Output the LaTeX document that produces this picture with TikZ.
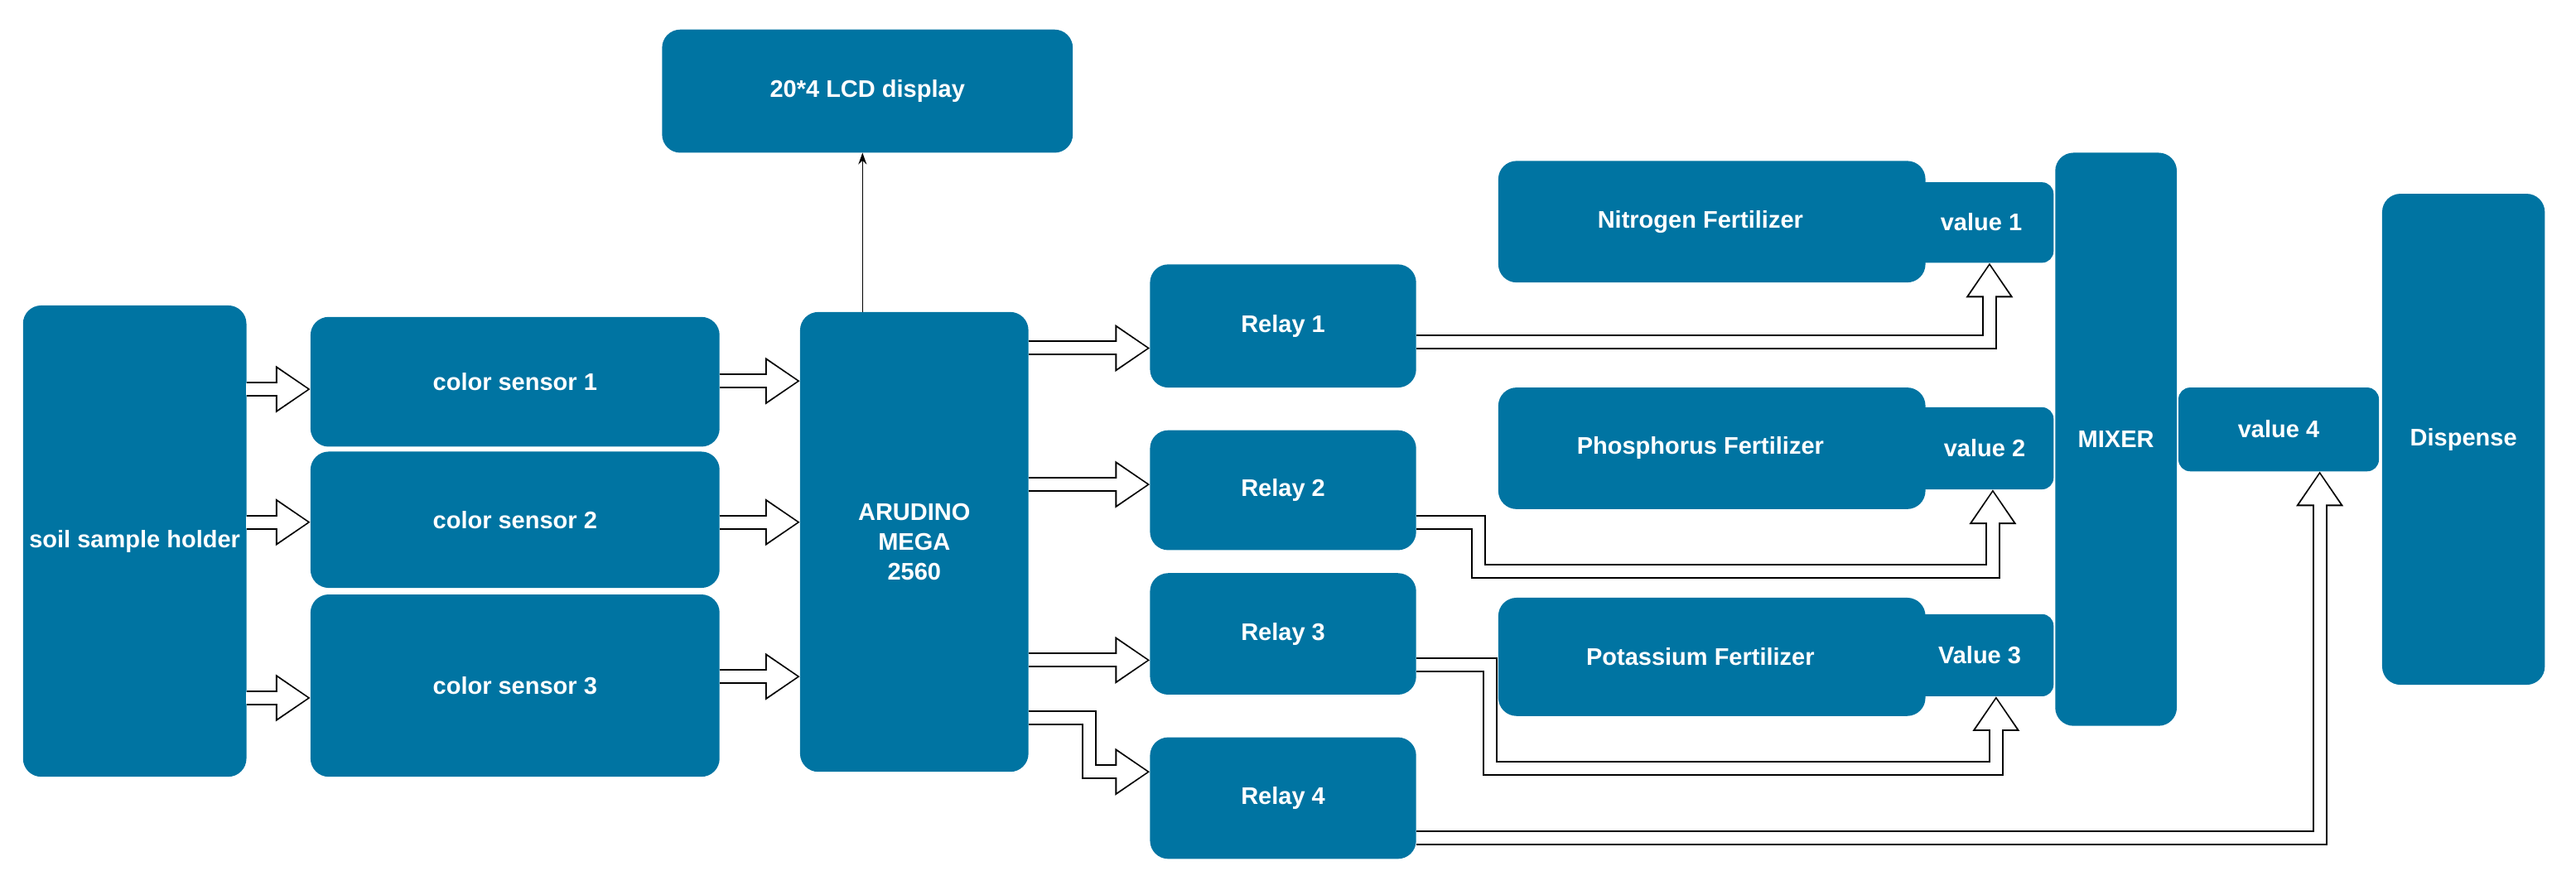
\documentclass[tikz,border=0pt]{standalone}
\usepackage{fontspec}
\setmainfont{Liberation Sans}
\usetikzlibrary{arrows.meta}
\definecolor{bx}{RGB}{0,116,162}
\begin{document}
\begin{tikzpicture}[x=1.983pt,y=-1.983pt,
  box/.style={fill=bx,rounded corners=22pt,text=white,font=\bfseries\fontsize{29}{36}\selectfont,align=center,inner sep=0pt},
  bo/.style={draw=black,line width=18pt,-{Triangle[length=42pt,width=54pt]}},
  bi/.style={draw=white,line width=14pt,shorten >=3pt,-{Triangle[length=37pt,width=47pt]},shorten <=-0.1pt}]
\useasboundingbox (0,0) rectangle (1568,545);
\newcommand\bx[6]{\path[box] (#2,#3) rectangle (#4,#5); \node[box,fill=none] (#1) at ({(#2+#4)/2},{(#3+#5)/2}) {#6}; \coordinate (#1-nw) at (#2,#3); \coordinate (#1-se) at (#4,#5);}
\newcommand\barrow[1]{\draw[bo] #1; \draw[bi] #1;}
\bx{lcd}{403}{18}{653}{93}{20*4 LCD display}
\begin{scope}
\clip (14,186) rectangle (150,473);
\bx{soil}{14}{186}{150}{473}{soil sample holder}
\end{scope}
\bx{cs1}{189}{193}{438}{272}{color sensor 1}
\bx{cs2}{189}{275}{438}{358}{color sensor 2}
\bx{cs3}{189}{362}{438}{473}{color sensor 3}
\bx{ard}{487}{190}{626}{470}{ARUDINO\\MEGA\\2560}
\bx{r1}{700}{161}{862}{236}{Relay 1}
\bx{r2}{700}{262}{862}{335}{Relay 2}
\bx{r3}{700}{349}{862}{423}{Relay 3}
\bx{r4}{700}{449}{862}{523}{Relay 4}
\path[box] (912,98) rectangle (1172,172); \node[box,fill=none] (nf) at (1035,135) {Nitrogen Fertilizer};
\path[box] (912,236) rectangle (1172,310); \node[box,fill=none] (pf) at (1035,273) {Phosphorus Fertilizer};
\path[box] (912,364) rectangle (1172,436); \node[box,fill=none] (kf) at (1035,400) {Potassium Fertilizer};
\path[box,rounded corners=14pt] (1162,111) rectangle (1250,160); \node[box,fill=none] (v1) at (1206,135) {value 1};
\path[box,rounded corners=14pt] (1162,248) rectangle (1250,298); \node[box,fill=none] (v2) at (1208,273) {value 2};
\path[box,rounded corners=14pt] (1162,374) rectangle (1250,424); \node[box,fill=none] (v3) at (1205,399) {Value 3};
\bx{mix}{1251}{93}{1325}{442}{MIXER}
\path[box,rounded corners=14pt] (1326,236) rectangle (1448,287); \node[box,fill=none] (v4) at (1387,261) {value 4};
\bx{dis}{1450}{118}{1549}{417}{Dispense}
% sensors
\barrow{(150,237) -- (189,237)}
\barrow{(150,318) -- (189,318)}
\barrow{(150,425) -- (189,425)}
\barrow{(438,232) -- (487,232)}
\barrow{(438,318) -- (487,318)}
\barrow{(438,412) -- (487,412)}
\draw[-{Stealth[length=14pt,width=10pt]},line width=1.5pt] (525,190) -- (525,93);
% relays
\barrow{(626,212) -- (700,212)}
\barrow{(626,295) -- (700,295)}
\barrow{(626,402) -- (700,402)}
\barrow{(626,437) -- (663,437) -- (663,470) -- (700,470)}
\barrow{(862,208) -- (1211,208) -- (1211,160)}
\barrow{(862,318) -- (900,318) -- (900,348) -- (1213,348) -- (1213,298)}
\barrow{(862,405) -- (907,405) -- (907,468) -- (1215,468) -- (1215,424)}
\barrow{(862,510) -- (1412,510) -- (1412,287)}
\end{tikzpicture}
\end{document}
